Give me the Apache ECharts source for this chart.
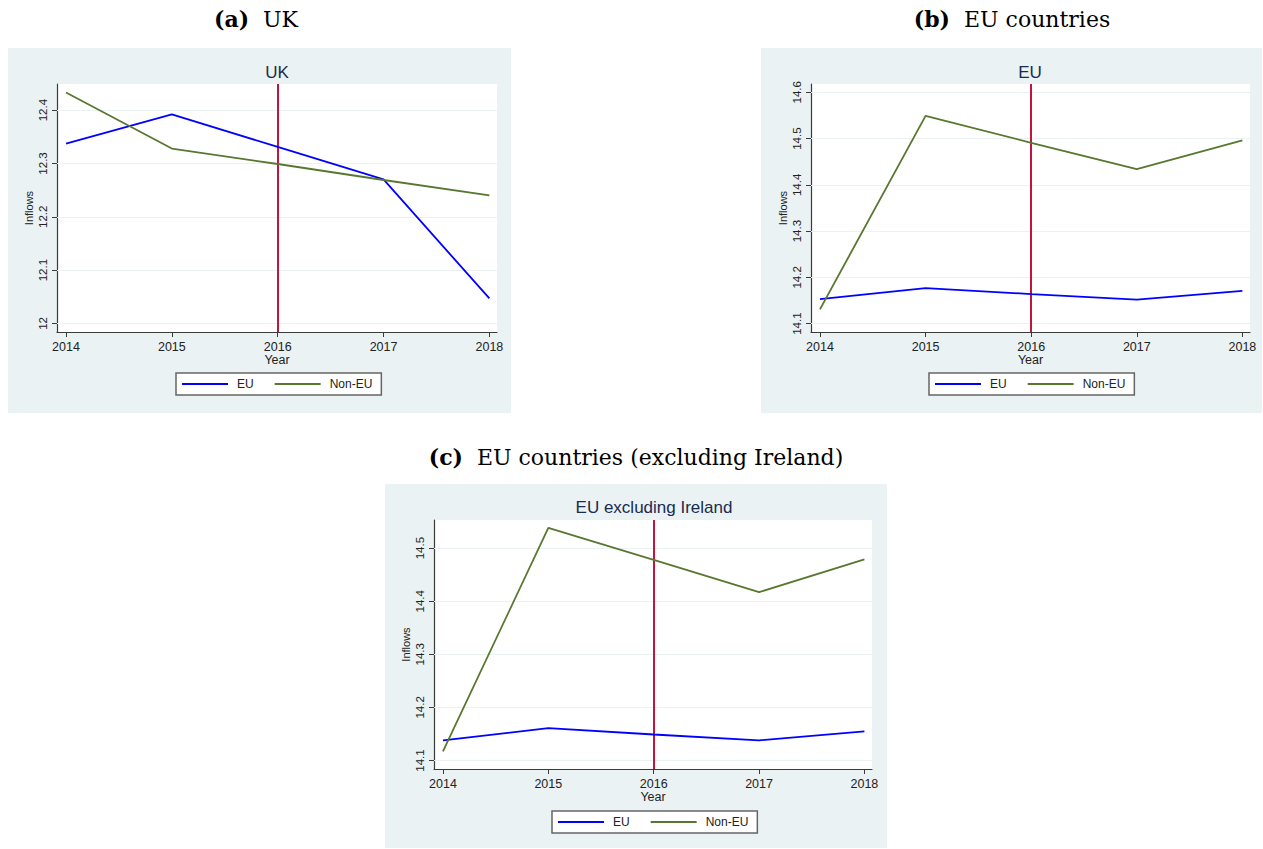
<!DOCTYPE html>
<html>
<head>
<meta charset="utf-8">
<title>Inflows by origin</title>
<script src="https://cdn.jsdelivr.net/npm/echarts@6/dist/echarts.min.js"></script>
<style>
  html, body { margin: 0; padding: 0; background: #fff; }
  #chart { width: 1263px; height: 849px; }
</style>
</head>
<body>
<div id="chart"></div>
<script>
// ---- data ----
const years = [2014, 2015, 2016, 2017, 2018];

const ukEU      = [12.337, 12.392, 12.331, 12.270, 12.047];
const ukNonEU   = [12.433, 12.328, 12.299, 12.269, 12.240];

const euEU      = [14.153, 14.177, 14.164, 14.152, 14.171];
const euNonEU   = [14.131, 14.549, 14.491, 14.434, 14.496];

const exIeEU    = [14.138, 14.161, 14.149, 14.138, 14.155];
const exIeNonEU = [14.117, 14.538, 14.478, 14.417, 14.479];

const ukTicks   = [12, 12.1, 12.2, 12.3, 12.4];
const euTicks   = [14.1, 14.2, 14.3, 14.4, 14.5, 14.6];
const exIeTicks = [14.1, 14.2, 14.3, 14.4, 14.5];

const seriesNames = ['EU', 'Non-EU'];
const referendumYear = 2016;

// ---- styling ----
const EU_COLOR = '#0000ff';
const NONEU_COLOR = '#58772f';
const REF_COLOR = '#c4143e';
const PANEL_BG = '#eaf2f3';
const GRID_LINE = '#eaf2f3';
const AXIS_COLOR = '#3a3a3a';
const SANS = 'Liberation Sans, Arial, sans-serif';
const SERIF = 'DejaVu Serif, serif';

const panels = [
  { caption: '(a)', captionText: '  UK', captionPos: [256, 19],
    title: 'UK', titlePos: [277, 72],
    bg: [8, 48, 503, 365],
    grid: { left: 57, top: 84, width: 440, height: 248 },
    yRange: [11.984, 12.449], ticks: ukTicks,
    eu: ukEU, noneu: ukNonEU,
    legendPos: [176, 373] },
  { caption: '(b)', captionText: '  EU countries', captionPos: [1012, 19],
    title: 'EU', titlePos: [1030, 72],
    bg: [761, 48, 501, 365],
    grid: { left: 811, top: 84, width: 439, height: 248 },
    yRange: [14.082, 14.618], ticks: euTicks,
    eu: euEU, noneu: euNonEU,
    legendPos: [929, 373] },
  { caption: '(c)', captionText: '  EU countries (excluding Ireland)', captionPos: [636, 457],
    title: 'EU excluding Ireland', titlePos: [654, 507],
    bg: [385, 484, 502, 364],
    grid: { left: 434, top: 520, width: 438, height: 249 },
    yRange: [14.084, 14.553], ticks: exIeTicks,
    eu: exIeEU, noneu: exIeNonEU,
    legendPos: [552, 811] }
];

const xRange = [2013.915, 2018.072];
const pairs = (vals) => years.map((y, k) => [y, vals[k]]);

const option = {
  animation: false,
  grid: [], xAxis: [], yAxis: [], series: [], legend: [], graphic: []
};

panels.forEach((p, i) => {
  option.graphic.push({
    type: 'rect', z: -10, silent: true,
    shape: { x: p.bg[0], y: p.bg[1], width: p.bg[2], height: p.bg[3] },
    style: { fill: PANEL_BG }
  });
  option.graphic.push({
    type: 'text', silent: true, x: p.captionPos[0], y: p.captionPos[1],
    style: {
      text: '{b|' + p.caption + '}{n|' + p.captionText + '}',
      align: 'center', verticalAlign: 'middle',
      rich: {
        b: { fontFamily: SERIF, fontSize: 22, fontWeight: 'bold', fill: '#000' },
        n: { fontFamily: SERIF, fontSize: 22, fill: '#000' }
      }
    }
  });
  option.graphic.push({
    type: 'text', silent: true, x: p.titlePos[0], y: p.titlePos[1],
    style: {
      text: p.title, align: 'center', verticalAlign: 'middle',
      fontFamily: SANS, fontSize: 17, fill: '#1a2a50'
    }
  });

  option.grid.push(Object.assign({
    show: true, backgroundColor: '#ffffff', borderWidth: 0
  }, p.grid));

  option.xAxis.push({
    type: 'value', gridIndex: i, min: xRange[0], max: xRange[1],
    name: 'Year', nameLocation: 'middle', nameGap: 21,
    nameTextStyle: { fontFamily: SANS, fontSize: 12.5, color: '#222' },
    axisLine: { show: true, onZero: false, lineStyle: { color: AXIS_COLOR, width: 1.2 } },
    axisTick: { show: true, length: 5, customValues: years,
                lineStyle: { color: AXIS_COLOR, width: 1 } },
    axisLabel: { customValues: years, formatter: v => String(v),
                 fontFamily: SANS, fontSize: 12.5, color: '#222', margin: 8 },
    splitLine: { show: false }
  });

  option.yAxis.push({
    type: 'value', gridIndex: i, min: p.yRange[0], max: p.yRange[1],
    name: 'Inflows', nameLocation: 'middle', nameGap: 23, nameRotate: 90,
    nameTextStyle: { fontFamily: SANS, fontSize: 11, color: '#222' },
    axisLine: { show: true, onZero: false, lineStyle: { color: AXIS_COLOR, width: 1.2 } },
    axisTick: { show: true, length: 5, customValues: p.ticks,
                lineStyle: { color: AXIS_COLOR, width: 1 } },
    axisLabel: { customValues: p.ticks, formatter: v => String(v), rotate: 90,
                 fontFamily: SANS, fontSize: 11.5, color: '#222', margin: 8 },
    splitLine: { show: false }
  });

  // horizontal guide lines at the y ticks
  option.series.push({
    type: 'line', name: 'grid' + i, xAxisIndex: i, yAxisIndex: i, z: 1,
    data: [], silent: true,
    markLine: {
      z: 1, silent: true, symbol: 'none', label: { show: false },
      lineStyle: { type: 'solid', color: GRID_LINE, width: 1.2 },
      data: p.ticks.map(v => ({ yAxis: v }))
    }
  });
  // referendum year marker
  option.series.push({
    type: 'line', name: 'ref' + i, xAxisIndex: i, yAxisIndex: i, z: 2,
    data: [], silent: true,
    markLine: {
      z: 2, silent: true, symbol: 'none', label: { show: false },
      lineStyle: { type: 'solid', color: REF_COLOR, width: 2 },
      data: [{ xAxis: referendumYear }]
    }
  });
  option.series.push({
    type: 'line', name: seriesNames[0], xAxisIndex: i, yAxisIndex: i, z: 3,
    data: pairs(p.eu), symbol: 'none', color: EU_COLOR,
    lineStyle: { color: EU_COLOR, width: 1.8 }
  });
  option.series.push({
    type: 'line', name: seriesNames[1], xAxisIndex: i, yAxisIndex: i, z: 3,
    data: pairs(p.noneu), symbol: 'none', color: NONEU_COLOR,
    lineStyle: { color: NONEU_COLOR, width: 1.8 }
  });

  option.legend.push({
    data: seriesNames, left: p.legendPos[0], top: p.legendPos[1],
    orient: 'horizontal', icon: 'rect', itemWidth: 46, itemHeight: 2,
    itemGap: 21, padding: [5, 9, 5, 6],
    backgroundColor: '#ffffff', borderColor: '#666', borderWidth: 1.5, borderRadius: 0,
    selectedMode: false,
    textStyle: { fontFamily: SANS, fontSize: 12, color: '#222', padding: [0, 0, 0, 4] }
  });
});

const chart = echarts.init(document.getElementById('chart'), null, { renderer: 'svg' });
chart.setOption(option);
</script>
</body>
</html>
